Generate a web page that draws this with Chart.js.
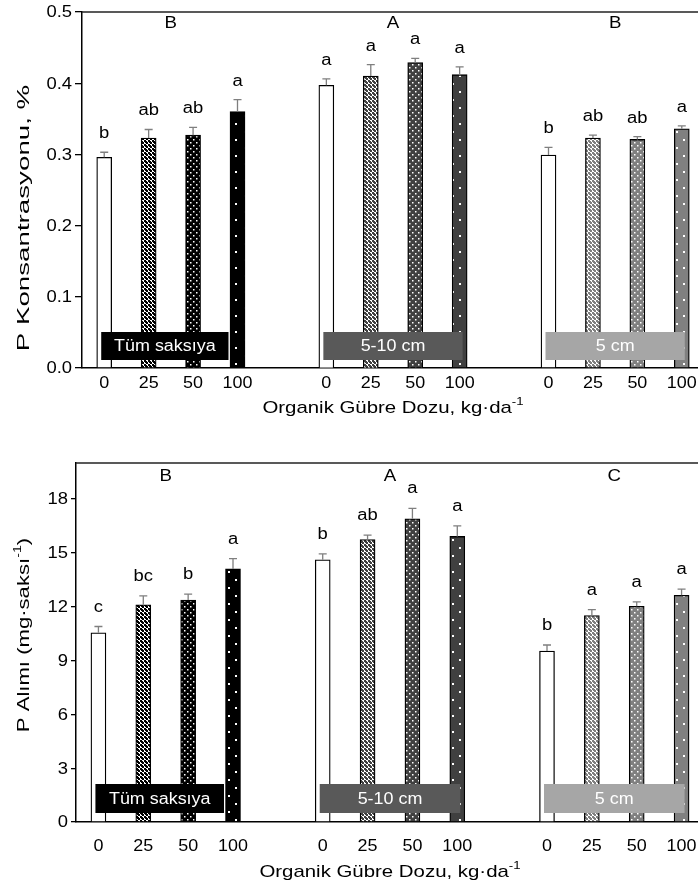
<!DOCTYPE html>
<html>
<head>
<meta charset="utf-8">
<script src="https://cdn.jsdelivr.net/npm/chart.js@4"></script>
<style>
  html, body { margin:0; padding:0; background:#fff; }
  body { width:698px; height:893px; overflow:hidden; position:relative; }
  canvas { position:absolute; left:0; }
  #concChart { top:0; }
  #uptakeChart { top:440px; }
</style>
</head>
<body>
<canvas id="concChart" width="720" height="440"></canvas>
<canvas id="uptakeChart" width="720" height="453"></canvas>
<script>
// ======= Data =======
const doses  = ["0", "25", "50", "100"];
const depths = ["Tüm saksıya", "5-10 cm", "5 cm"];

// P Konsantrasyonu, %
const concTum   = [0.296, 0.323, 0.327, 0.360];
const conc510   = [0.397, 0.410, 0.429, 0.412];
const conc5     = [0.299, 0.323, 0.321, 0.336];
const concErrTum = [0.007, 0.012, 0.011, 0.017];
const concErr510 = [0.009, 0.016, 0.006, 0.011];
const concErr5   = [0.011, 0.004, 0.004, 0.004];
const concLetters      = [["b","ab","ab","a"], ["a","a","a","a"], ["b","ab","ab","a"]];
const concGroupLetters = ["B", "A", "B"];
const concTicks = [0, 0.1, 0.2, 0.3, 0.4, 0.5];

// P Alımı, mg/saksı
const uptTum   = [10.54, 12.10, 12.37, 14.10];
const upt510   = [14.61, 15.74, 16.89, 15.91];
const upt5     = [9.52, 11.50, 12.02, 12.63];
const uptErrTum = [0.35, 0.50, 0.33, 0.57];
const uptErr510 = [0.33, 0.24, 0.58, 0.59];
const uptErr5   = [0.34, 0.33, 0.24, 0.34];
const uptLetters      = [["c","bc","b","a"], ["b","ab","a","a"], ["b","a","a","a"]];
const uptGroupLetters = ["B", "A", "C"];
const uptTicks = [0, 3, 6, 9, 12, 15, 18];

// ======= Style =======
const FONT = "Liberation Sans, Arial, sans-serif";
const barColors = ["#000000", "#404040", "#808080"];
const boxColors = ["#000000", "#595959", "#a6a6a6"];
const boxEnd    = [-9, 3, 3];   // px past the last bar centre
const groupStart = [0, 5, 10];  // first slot of each group

Chart.defaults.font.family = FONT;
Chart.defaults.color = "#000";

// ======= Helpers =======
// three groups -> 14 slots with an empty slot between groups
const slots = (a, b, c, gap = null) => [...a, gap, ...b, gap, ...c];

function tile(size, draw){
  const c = document.createElement("canvas");
  c.width = c.height = size;
  draw(c.getContext("2d"));
  return document.createElement("canvas").getContext("2d").createPattern(c, "repeat");
}

function patternsFor(color){
  // small checker
  const checker = tile(4, g => {
    g.fillStyle = "#fff"; g.fillRect(0,0,4,4);
    g.fillStyle = color;
    g.fillRect(0,0,2,2); g.fillRect(2,2,2,2);
    g.fillRect(1,2,1,1); g.fillRect(2,1,1,1);
  });
  const dense = tile(6, g => {
    g.fillStyle = color; g.fillRect(0,0,6,6);
    g.fillStyle = "#fff";
    g.fillRect(1,1,1.5,1.5); g.fillRect(4,4,1.5,1.5);
  });
  const sparse = tile(16, g => {
    g.fillStyle = color; g.fillRect(0,0,16,16);
    g.fillStyle = "#fff";
    g.fillRect(4,3,2,2); g.fillRect(11,11,2,2);
  });
  return ["#ffffff", checker, dense, sparse];
}

const fills = slots(...barColors.map(patternsFor), "#ffffff");

// text stretched along its baseline (the reference type is wide)
function txt(ctx, str, x, y, size, sx, align = "center", base = "middle"){
  ctx.save();
  ctx.font = `${size}px ${FONT}`;
  ctx.textAlign = align;
  ctx.textBaseline = base;
  ctx.translate(x, y);
  ctx.scale(sx, 1);
  ctx.fillText(str, 0, 0);
  ctx.restore();
}

// centred text with superscript parts
function drawSup(ctx, parts, x, y, size, sx, rot = 0){
  const main = `${size}px ${FONT}`, sup = `${Math.round(size * 0.65)}px ${FONT}`;
  ctx.save();
  ctx.translate(x, y);
  ctx.rotate(rot);
  ctx.scale(sx, 1);
  ctx.textBaseline = "middle";
  ctx.textAlign = "left";
  let total = 0;
  parts.forEach(p => { ctx.font = p.sup ? sup : main; total += ctx.measureText(p.t).width; });
  let cx = -total / 2;
  parts.forEach(p => {
    ctx.font = p.sup ? sup : main;
    ctx.fillText(p.t, cx, p.sup ? -6 : 0);
    cx += ctx.measureText(p.t).width;
  });
  ctx.restore();
}

// ======= Decorations plugin =======
function decor(cfg){
  return {
    id: "decor",
    afterDatasetsDraw(chart){
      const {ctx, chartArea: a, scales: {x, y}} = chart;
      const meta = chart.getDatasetMeta(0);
      const vals = chart.data.datasets[0].data;
      ctx.save();
      ctx.fillStyle = "#000";

      // error bars + letters
      vals.forEach((v, i) => {
        if (v == null) return;
        const bx = meta.data[i].x;
        const top = y.getPixelForValue(v + cfg.errors[i]);
        ctx.strokeStyle = "#7f7f7f";
        ctx.lineWidth = 1.3;
        ctx.beginPath();
        ctx.moveTo(bx, y.getPixelForValue(v));
        ctx.lineTo(bx, top);
        ctx.moveTo(bx - 4, top);
        ctx.lineTo(bx + 4, top);
        ctx.stroke();
        txt(ctx, cfg.letters[i], bx, top - cfg.letterGap, 16, 1.15, "center", "alphabetic");
      });

      // group boxes + group letters
      groupStart.forEach((s, g) => {
        const x0 = x.getPixelForValue(s) - 3;
        const x1 = x.getPixelForValue(s + 3) + boxEnd[g];
        const y1 = a.bottom - cfg.boxGap;
        ctx.fillStyle = boxColors[g];
        ctx.fillRect(x0, y1 - cfg.boxH, x1 - x0, cfg.boxH);
        ctx.fillStyle = "#fff";
        txt(ctx, depths[g], (x0 + x1) / 2, y1 - cfg.boxH / 2 + 1, 16, 1.12);

        const mid = (x.getPixelForValue(s) + x.getPixelForValue(s + 3)) / 2;
        ctx.fillStyle = "#000";
        txt(ctx, cfg.groupLetters[g], mid, a.top + cfg.groupY, 17, 1.1, "center", "alphabetic");
      });
      ctx.restore();
    },
    afterDraw(chart){
      const {ctx, chartArea: a, scales: {x, y}} = chart;
      ctx.save();
      // frame top line
      ctx.strokeStyle = "#222";
      ctx.lineWidth = 1.5;
      ctx.beginPath();
      ctx.moveTo(a.left, a.top);
      ctx.lineTo(a.right, a.top);
      ctx.stroke();

      ctx.fillStyle = "#000";
      // tick labels, placed by the scales
      y.ticks.forEach(t => {
        txt(ctx, cfg.fmt(t.value), a.left - cfg.tickLen - 3, y.getPixelForValue(t.value) + 1, 16, 1.15, "right");
      });
      chart.data.labels.forEach((l, i) => {
        if (l) txt(ctx, l, x.getPixelForValue(i), a.bottom + cfg.xLabelOff, 16, 1.12);
      });

      drawSup(ctx, cfg.xTitle, (a.left + a.right) / 2, cfg.xTitleY, 17, 1.2);
      drawSup(ctx, cfg.yTitle, 24, cfg.yTitleY, 17, cfg.yTitleSx, -Math.PI / 2);
      ctx.restore();
    }
  };
}

// ======= Chart factory =======
function makeChart(id, o){
  const canvas = document.getElementById(id);
  return new Chart(canvas, {
    type: "bar",
    data: {
      labels: slots(doses, doses, doses, ""),
      datasets: [{
        data: o.values,
        backgroundColor: fills,
        borderColor: "#000",
        borderWidth: 1.3,
        borderSkipped: "bottom",
        barThickness: 15
      }]
    },
    options: {
      responsive: false,
      animation: false,
      devicePixelRatio: 1,
      layout: { padding: { top: o.padTop, right: canvas.width - 704, left: 0, bottom: 0 } },
      plugins: { legend: { display: false }, tooltip: { enabled: false } },
      scales: {
        x: {
          offset: true,
          grid: { display: false, drawTicks: false },
          border: { color: "#000", width: 1.5 },
          ticks: { display: false },
          afterFit: s => { s.height = o.xAxisH; }
        },
        y: {
          min: 0,
          max: o.max,
          grid: { drawOnChartArea: false, tickLength: o.tickLen, color: "#000", tickColor: "#000", lineWidth: 1.3 },
          border: { color: "#000", width: 1.5 },
          ticks: { display: false },
          afterBuildTicks: s => { s.ticks = o.ticks.map(v => ({ value: v })); },
          afterFit: s => { s.width = o.yAxisW; }
        }
      }
    },
    plugins: [decor(o)]
  });
}

// ======= Init =======
makeChart("concChart", {
  values: slots(concTum, conc510, conc5),
  errors: slots(concErrTum, concErr510, concErr5, 0),
  letters: slots(...concLetters, ""),
  groupLetters: concGroupLetters,
  ticks: concTicks,
  max: 0.5,
  fmt: v => Number(v).toFixed(1),
  padTop: 12, xAxisH: 72, yAxisW: 82, tickLen: 7, xLabelOff: 16,
  letterGap: 14, boxGap: 8, boxH: 28, groupY: 16,
  xTitleY: 408, yTitleY: 218, yTitleSx: 1.63,
  xTitle: [{ t: "Organik Gübre Dozu, kg·da" }, { t: "-1", sup: true }],
  yTitle: [{ t: "P Konsantrasyonu, %" }]
});

makeChart("uptakeChart", {
  values: slots(uptTum, upt510, upt5),
  errors: slots(uptErrTum, uptErr510, uptErr5, 0),
  letters: slots(...uptLetters, ""),
  groupLetters: uptGroupLetters,
  ticks: uptTicks,
  max: 20,
  fmt: v => String(v),
  padTop: 23, xAxisH: 71, yAxisW: 76, tickLen: 5, xLabelOff: 25,
  letterGap: 15, boxGap: 9, boxH: 29, groupY: 18,
  xTitleY: 432, yTitleY: 195, yTitleSx: 1.3,
  xTitle: [{ t: "Organik Gübre Dozu, kg·da" }, { t: "-1", sup: true }],
  yTitle: [{ t: "P Alımı (mg·saksı" }, { t: "-1", sup: true }, { t: ")" }]
});
</script>
</body>
</html>
